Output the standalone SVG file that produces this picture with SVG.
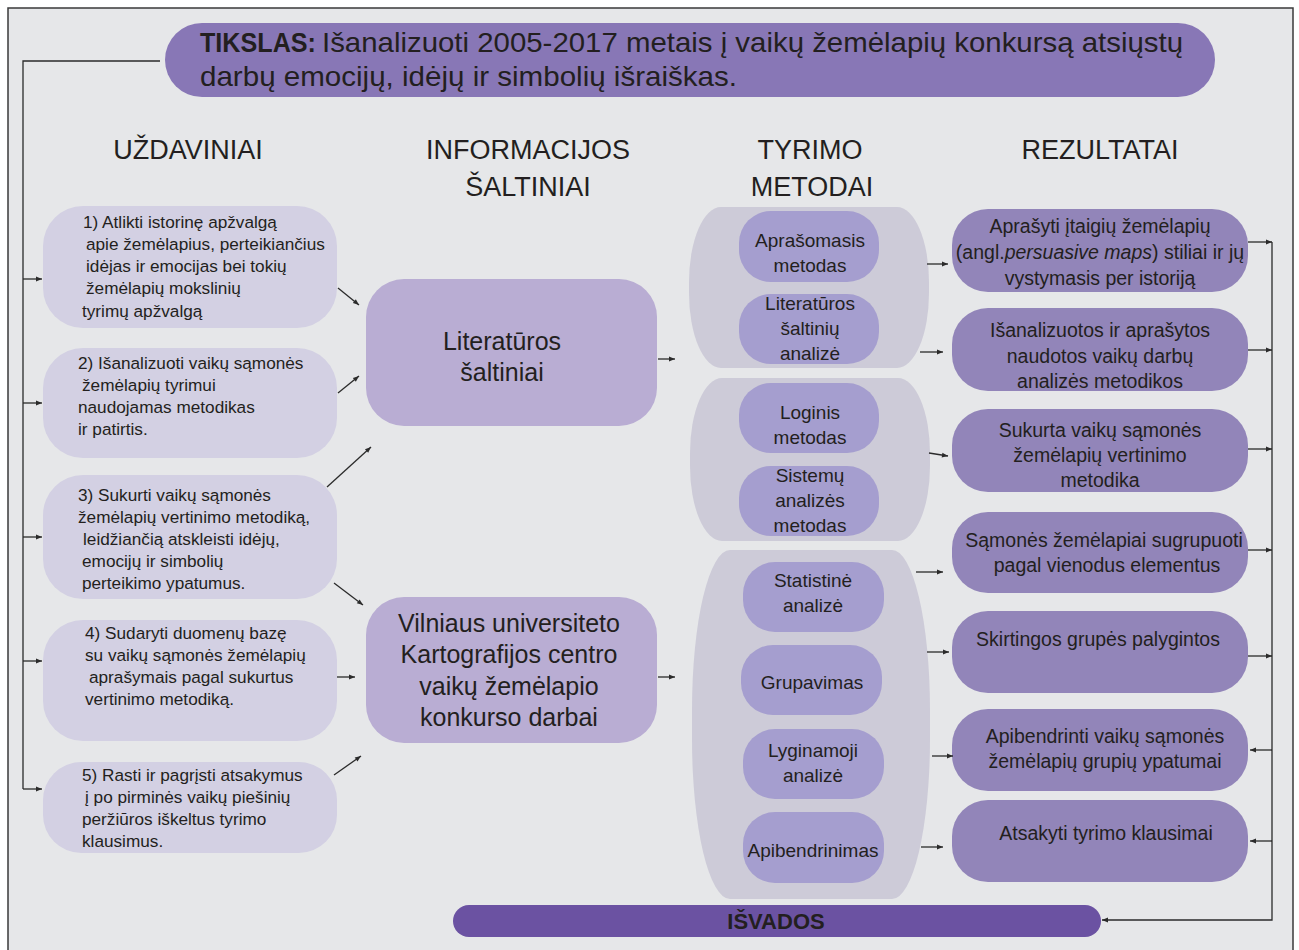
<svg xmlns="http://www.w3.org/2000/svg" width="1299" height="950" viewBox="0 0 1299 950">
<defs>
<marker id="ah" viewBox="0 0 10 10" refX="10" refY="5" markerWidth="7" markerHeight="6" markerUnits="userSpaceOnUse" orient="auto"><path d="M0,1 L10,5 L0,9 z" fill="#2b2b2b"/></marker>
<style>
text{font-family:"Liberation Sans",Arial,sans-serif;fill:#231f20}
.hd{font-size:27px;text-anchor:middle}
.lt{font-size:17.2px}
.md{font-size:25px;text-anchor:middle}
.mt{font-size:19px;text-anchor:middle}
.rt{font-size:19.5px;text-anchor:middle}
.lbox{fill:#d3d0e3}
.mbox{fill:#b9add3}
.cont{fill:#cdcbd8}
.ibox{fill:#a59ecf}
.rbox{fill:#9285b9}
.cn{stroke:#2b2b2b;stroke-width:1.3;fill:none}
.ar{marker-end:url(#ah)}
</style>
</defs>
<rect x="0" y="0" width="1299" height="950" fill="#ffffff"/>
<rect x="8" y="8" width="1285" height="950" fill="#e6e7e9" stroke="#3a3a3a" stroke-width="1.5"/>

<g id="title">
<rect x="165" y="23" width="1050" height="74" rx="37" ry="37" fill="#8877b6"/>
<text x="200" y="52" font-size="28" font-weight="bold" textLength="116" lengthAdjust="spacingAndGlyphs">TIKSLAS:</text>
<text x="322" y="52" font-size="28" textLength="861" lengthAdjust="spacingAndGlyphs">Išanalizuoti 2005-2017 metais į vaikų žemėlapių konkursą atsiųstų</text>
<text x="200" y="86" font-size="28" textLength="537" lengthAdjust="spacingAndGlyphs">darbų emocijų, idėjų ir simbolių išraiškas.</text>
</g>

<g id="headers">
<text class="hd" x="188" y="159">UŽDAVINIAI</text>
<text class="hd" x="528" y="159">INFORMACIJOS</text>
<text class="hd" x="528" y="196">ŠALTINIAI</text>
<text class="hd" x="810" y="159">TYRIMO</text>
<text class="hd" x="812" y="196">METODAI</text>
<text class="hd" x="1100" y="159">REZULTATAI</text>
</g>

<g id="task1">
<rect class="lbox" x="43" y="206" width="294" height="122" rx="40" ry="40"/>
<text class="lt" x="83" y="228">1) Atlikti istorinę apžvalgą</text>
<text class="lt" x="86" y="250">apie žemėlapius, perteikiančius</text>
<text class="lt" x="86" y="272">idėjas ir emocijas bei tokių</text>
<text class="lt" x="86" y="294">žemėlapių mokslinių</text>
<text class="lt" x="82" y="317">tyrimų apžvalgą</text>
</g>
<g id="task2">
<rect class="lbox" x="43" y="348" width="294" height="110" rx="40" ry="40"/>
<text class="lt" x="78" y="369">2) Išanalizuoti vaikų sąmonės</text>
<text class="lt" x="82" y="391">žemėlapių tyrimui</text>
<text class="lt" x="78" y="413">naudojamas metodikas</text>
<text class="lt" x="78" y="435">ir patirtis.</text>
</g>
<g id="task3">
<rect class="lbox" x="43" y="475" width="294" height="124" rx="40" ry="40"/>
<text class="lt" x="78" y="501">3) Sukurti vaikų sąmonės</text>
<text class="lt" x="78" y="523">žemėlapių vertinimo metodiką,</text>
<text class="lt" x="83" y="545">leidžiančią atskleisti idėjų,</text>
<text class="lt" x="82" y="567">emocijų ir simbolių</text>
<text class="lt" x="82" y="589">perteikimo ypatumus.</text>
</g>
<g id="task4">
<rect class="lbox" x="43" y="620" width="294" height="121" rx="40" ry="40"/>
<text class="lt" x="85" y="639">4) Sudaryti duomenų bazę</text>
<text class="lt" x="85" y="661">su vaikų sąmonės žemėlapių</text>
<text class="lt" x="89" y="683">aprašymais pagal sukurtus</text>
<text class="lt" x="85" y="705">vertinimo metodiką.</text>
</g>
<g id="task5">
<rect class="lbox" x="43" y="762" width="294" height="91" rx="38" ry="38"/>
<text class="lt" x="82" y="781">5) Rasti ir pagrįsti atsakymus</text>
<text class="lt" x="85" y="803">į po pirminės vaikų piešinių</text>
<text class="lt" x="82" y="825">peržiūros iškeltus tyrimo</text>
<text class="lt" x="82" y="847">klausimus.</text>
</g>

<g id="src-literatura">
<rect class="mbox" x="366" y="279" width="291" height="147" rx="38" ry="38"/>
<text class="md" x="502" y="350">Literatūros</text>
<text class="md" x="502" y="381">šaltiniai</text>
</g>
<g id="src-vu">
<rect class="mbox" x="366" y="597" width="291" height="146" rx="38" ry="38"/>
<text class="md" x="509" y="632">Vilniaus universiteto</text>
<text class="md" x="509" y="663">Kartografijos centro</text>
<text class="md" x="509" y="695">vaikų žemėlapio</text>
<text class="md" x="509" y="726">konkurso darbai</text>
</g>

<g id="methods-group1">
<rect class="cont" x="689" y="207" width="240" height="161" rx="32" ry="75"/>
</g>
<g id="methods-group2">
<rect class="cont" x="690" y="378" width="240" height="163" rx="32" ry="75"/>
</g>
<g id="methods-group3">
<rect class="cont" x="692" y="550" width="238" height="349" rx="38" ry="160"/>
</g>
<g id="m-aprasomasis">
<rect class="ibox" x="739" y="211" width="140" height="71" rx="32" ry="32"/>
<text class="mt" x="810" y="247">Aprašomasis</text>
<text class="mt" x="810" y="272">metodas</text>
</g>
<g id="m-literaturos">
<rect class="ibox" x="739" y="294" width="140" height="70" rx="32" ry="32"/>
<text class="mt" x="810" y="310">Literatūros</text>
<text class="mt" x="810" y="335">šaltinių</text>
<text class="mt" x="810" y="360">analizė</text>
</g>
<g id="m-loginis">
<rect class="ibox" x="739" y="383" width="140" height="70" rx="32" ry="32"/>
<text class="mt" x="810" y="419">Loginis</text>
<text class="mt" x="810" y="444">metodas</text>
</g>
<g id="m-sistemu">
<rect class="ibox" x="739" y="466" width="140" height="70" rx="32" ry="32"/>
<text class="mt" x="810" y="482">Sistemų</text>
<text class="mt" x="810" y="507">analizės</text>
<text class="mt" x="810" y="532">metodas</text>
</g>
<g id="m-statistine">
<rect class="ibox" x="743" y="562" width="141" height="70" rx="32" ry="32"/>
<text class="mt" x="813" y="587">Statistinė</text>
<text class="mt" x="813" y="612">analizė</text>
</g>
<g id="m-grupavimas">
<rect class="ibox" x="741" y="645" width="141" height="70" rx="32" ry="32"/>
<text class="mt" x="812" y="689">Grupavimas</text>
</g>
<g id="m-lyginamoji">
<rect class="ibox" x="743" y="729" width="141" height="70" rx="32" ry="32"/>
<text class="mt" x="813" y="757">Lyginamoji</text>
<text class="mt" x="813" y="782">analizė</text>
</g>
<g id="m-apibendrinimas">
<rect class="ibox" x="743" y="812" width="141" height="71" rx="32" ry="32"/>
<text class="mt" x="813" y="857">Apibendrinimas</text>
</g>

<g id="r1">
<rect class="rbox" x="952" y="209" width="296" height="83" rx="36" ry="36"/>
<text class="rt" x="1100" y="233">Aprašyti įtaigių žemėlapių</text>
<text class="rt" x="1100" y="259">(angl.<tspan font-style="italic">persuasive maps</tspan>) stiliai ir jų</text>
<text class="rt" x="1100" y="285">vystymasis per istoriją</text>
</g>
<g id="r2">
<rect class="rbox" x="952" y="308" width="296" height="83" rx="36" ry="36"/>
<text class="rt" x="1100" y="337">Išanalizuotos ir aprašytos</text>
<text class="rt" x="1100" y="363">naudotos vaikų darbų</text>
<text class="rt" x="1100" y="388">analizės metodikos</text>
</g>
<g id="r3">
<rect class="rbox" x="952" y="409" width="296" height="83" rx="36" ry="36"/>
<text class="rt" x="1100" y="437">Sukurta vaikų sąmonės</text>
<text class="rt" x="1100" y="462">žemėlapių vertinimo</text>
<text class="rt" x="1100" y="487">metodika</text>
</g>
<g id="r4">
<rect class="rbox" x="952" y="512" width="296" height="81" rx="36" ry="36"/>
<text class="rt" x="1104" y="547">Sąmonės žemėlapiai sugrupuoti</text>
<text class="rt" x="1107" y="572">pagal vienodus elementus</text>
</g>
<g id="r5">
<rect class="rbox" x="952" y="611" width="296" height="82" rx="36" ry="36"/>
<text class="rt" x="1098" y="646">Skirtingos grupės palygintos</text>
</g>
<g id="r6">
<rect class="rbox" x="952" y="709" width="296" height="82" rx="36" ry="36"/>
<text class="rt" x="1105" y="743">Apibendrinti vaikų sąmonės</text>
<text class="rt" x="1105" y="768">žemėlapių grupių ypatumai</text>
</g>
<g id="r7">
<rect class="rbox" x="952" y="800" width="296" height="82" rx="36" ry="36"/>
<text class="rt" x="1106" y="840">Atsakyti tyrimo klausimai</text>
</g>

<g id="isvados">
<rect x="453" y="905" width="648" height="32" rx="16" ry="16" fill="#6b52a2"/>
<text x="776" y="929" font-size="22" font-weight="bold" text-anchor="middle">IŠVADOS</text>
</g>

<g id="connectors">
<path class="cn" d="M160,61 H23 V789"/>
<path class="cn ar" d="M23,279 H42"/>
<path class="cn ar" d="M23,403 H42"/>
<path class="cn ar" d="M23,537 H42"/>
<path class="cn ar" d="M23,661 H42"/>
<path class="cn ar" d="M23,789 H42"/>

<path class="cn ar" d="M338,288 L359,305"/>
<path class="cn ar" d="M338,393 L359,376"/>
<path class="cn ar" d="M327,487 L371,447"/>
<path class="cn ar" d="M334,583 L363,605"/>
<path class="cn ar" d="M337,677 L355,677"/>
<path class="cn ar" d="M334,775 L361,756"/>

<path class="cn ar" d="M658,359 H675"/>
<path class="cn ar" d="M658,677 H675"/>

<path class="cn ar" d="M927,264 H948"/>
<path class="cn ar" d="M920,352 H943"/>
<path class="cn ar" d="M929,453 L948,456"/>
<path class="cn ar" d="M916,572 H943"/>
<path class="cn ar" d="M927,652 H949"/>
<path class="cn ar" d="M932,756 H953"/>
<path class="cn ar" d="M921,847 H943"/>

<path class="cn" d="M1272,242 V920 H1102" marker-end="url(#ah)"/>
<path class="cn ar" d="M1248,242 H1272"/>
<path class="cn ar" d="M1248,350 H1272"/>
<path class="cn ar" d="M1248,449 H1272"/>
<path class="cn ar" d="M1248,550 H1272"/>
<path class="cn ar" d="M1248,656 H1272"/>
<path class="cn ar" d="M1272,750 H1250"/>
<path class="cn ar" d="M1272,841 H1250"/>
</g>
</svg>
